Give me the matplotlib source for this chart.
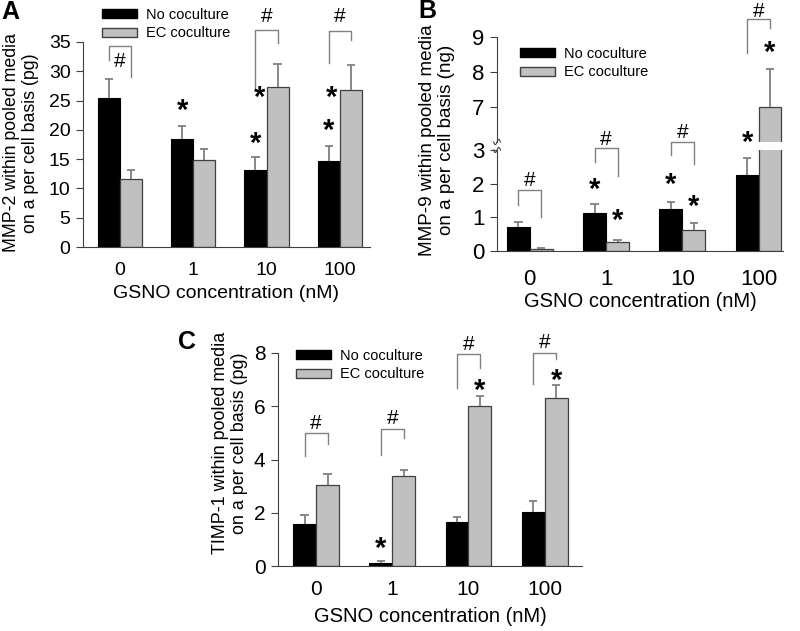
import matplotlib.pyplot as plt
import numpy as np
from matplotlib.patches import Patch

plt.rcParams['font.family'] = ['Liberation Sans', 'DejaVu Sans']

# ---- data ----
groups = ['0', '1', '10', '100']
series = ['No coculture', 'EC coculture']

# A: MMP-2 (pg)
mmp2_no = [25.4, 18.5, 13.1, 14.7]
mmp2_no_err = [3.3, 2.1, 2.2, 2.5]
mmp2_ec = [11.6, 14.9, 27.4, 26.8]
mmp2_ec_err = [1.5, 1.9, 3.8, 4.3]

# B: MMP-9 (ng)
mmp9_no = [0.70, 1.13, 1.25, 2.27]
mmp9_no_err = [0.16, 0.26, 0.20, 0.50]
mmp9_ec = [0.07, 0.27, 0.62, 7.0]
mmp9_ec_err = [0.02, 0.05, 0.20, 1.1]

# C: TIMP-1 (pg)
timp1_no = [1.57, 0.13, 1.65, 2.03]
timp1_no_err = [0.33, 0.04, 0.20, 0.40]
timp1_ec = [3.05, 3.38, 6.0, 6.3]
timp1_ec_err = [0.40, 0.24, 0.40, 0.50]

# '#' brackets: (group, top, left leg end, right leg end, '#' y)
mmp2_hash = [(0, 34.3, 31.9, 29.0, 31.9), (2, 37.0, 27.1, 34.8, 39.6), (3, 36.9, 31.4, 35.3, 39.6)]
mmp9_hash = [(0, 1.80, 1.38, 1.02, 2.13), (1, 3.05, 2.63, 2.22, 3.35), (2, 3.23, 2.84, 2.57, 3.56),
             (3, 9.51, 8.54, 9.26, 9.77)]
timp1_hash = [(0, 4.98, 4.12, 4.57, 5.39), (1, 5.13, 4.16, 4.79, 5.58), (2, 7.98, 6.67, 7.45, 8.39),
              (3, 8.01, 6.85, 7.79, 8.46)]

# '*' marks: (group, series, y, x shift)
mmp2_stars = [(1, 0, 24.7, 0), (2, 0, 19.1, 0), (2, 1, 26.8, -0.24), (3, 0, 21.3, 0), (3, 1, 26.9, -0.26)]
mmp9_stars = [(1, 0, 2.07, 0), (1, 1, 1.14, 0), (2, 0, 2.2, 0), (2, 1, 1.55, 0), (3, 0, 6.2, 0), (3, 1, 8.77, 0)]
timp1_stars = [(1, 0, 0.97, 0), (2, 1, 6.9, 0), (3, 1, 7.27, 0)]

W = 0.3
BLACK = '#000000'
GRAY = '#c0c0c0'
EDGE = '#404040'
LINE = '#808080'

fig = plt.figure(figsize=(8, 6.31), dpi=100)


def box(left, top, right, bottom):
    return [left / 800, 1 - bottom / 631, (right - left) / 800, (bottom - top) / 631]


def style(ax, tick_fs, show_bottom=True):
    ax.spines['top'].set_visible(False)
    ax.spines['right'].set_visible(False)
    ax.spines['left'].set_color(EDGE)
    ax.spines['bottom'].set_color(EDGE)
    ax.spines['bottom'].set_visible(show_bottom)
    ax.tick_params(axis='y', direction='out', length=5, width=0.8, color=EDGE, labelsize=tick_fs, pad=4)
    ax.tick_params(axis='x', length=0, labelsize=tick_fs)


def bars(ax, no, no_err, ec, ec_err):
    x = np.arange(len(groups))
    ax.bar(x - W / 2, no, W, color=BLACK, edgecolor=BLACK, linewidth=0.8)
    ax.bar(x + W / 2, ec, W, color=GRAY, edgecolor=EDGE, linewidth=0.9)
    for xs, v, e in [(x - W / 2, no, no_err), (x + W / 2, ec, ec_err)]:
        v = np.array(v)
        e = np.array(e)
        ax.vlines(xs, v, v + e, color=LINE, lw=1.3, zorder=3)
        ax.hlines(v + e, xs - 0.055, xs + 0.055, color=LINE, lw=1.3, zorder=3)


def hashes(ax, items, fs=15):
    for g, top, lb, rb, hy in items:
        xl, xr = g - W / 2, g + W / 2
        ax.plot([xl, xl, xr, xr], [lb, top, top, rb], color=LINE, lw=1.0, clip_on=False)
        ax.annotate('#', (g, hy), xytext=(0, -1), textcoords='offset points',
                    ha='center', va='center', fontsize=fs, annotation_clip=False)


def stars(ax, items, fs=21):
    for g, s, y, dx in items:
        xs = g - W / 2 if s == 0 else g + W / 2
        ax.annotate('*', (xs + dx, y), xytext=(0, -6), textcoords='offset points',
                    ha='center', va='center', fontsize=fs, fontweight='bold', annotation_clip=False)


def legend(ax, x, y):
    handles = [Patch(facecolor=BLACK, edgecolor=BLACK), Patch(facecolor=GRAY, edgecolor=EDGE)]
    ax.legend(handles, series, loc='upper left', bbox_to_anchor=(x, y), frameon=False, fontsize=10.5,
              borderpad=0, borderaxespad=0, handlelength=2.4, handleheight=0.55,
              handletextpad=0.6, labelspacing=0.3)


# ---- panel A ----
axA = fig.add_axes(box(83, 42, 370, 247))
bars(axA, mmp2_no, mmp2_no_err, mmp2_ec, mmp2_ec_err)
axA.set_xlim(-0.5, 3.41)
axA.set_ylim(0, 35)
axA.set_yticks(range(0, 36, 5))
axA.set_xticks(range(4))
axA.set_xticklabels(groups)
style(axA, 14)
axA.tick_params(axis='x', pad=11)
hashes(axA, mmp2_hash)
stars(axA, mmp2_stars)
legend(axA, 0.066, 1.166)
fig.text(21 / 800, 1 - 143 / 631, 'MMP-2 within pooled media\non a per cell basis (pg)', rotation=90,
         ha='center', va='center', fontsize=12.8, linespacing=1.2, multialignment='center')
fig.text(226 / 800, 1 - 293 / 631, 'GSNO concentration (nM)', ha='center', va='center', fontsize=14)
fig.text(10 / 800, 1 - 12 / 631, 'A', ha='center', va='center', fontsize=18, fontweight='bold')

# ---- panel B (broken axis) ----
axB = fig.add_axes(box(497, 150, 783, 251))
axB2 = fig.add_axes(box(497, 37, 783, 142), sharex=axB)
for ax in (axB, axB2):
    bars(ax, mmp9_no, mmp9_no_err, mmp9_ec, mmp9_ec_err)
axB.set_xlim(-0.43, 3.32)
axB.set_ylim(0, 3)
axB2.set_ylim(6, 9)
axB.set_yticks([0, 1, 2, 3])
axB2.set_yticks([7, 8, 9])
axB.set_xticks(range(4))
axB.set_xticklabels(groups)
style(axB, 16)
style(axB2, 16, show_bottom=False)
axB2.tick_params(axis='x', labelbottom=False)
axB.tick_params(axis='x', pad=13)
axB2.patch.set_alpha(0)
# break marks on the y axis
t = np.linspace(-1, 1, 30)
for ax, yb in ((axB, 1.0), (axB2, 0.0)):
    ax.plot(0.012 * t, yb + 0.025 * np.sin(np.pi * t), color=EDGE, lw=0.8,
            transform=ax.transAxes, clip_on=False)
hashes(axB, [h for h in mmp9_hash if h[1] < 5])
hashes(axB2, [h for h in mmp9_hash if h[1] > 5])
stars(axB, [s for s in mmp9_stars if s[2] < 5])
stars(axB2, [s for s in mmp9_stars if s[2] > 5])
legend(axB2, 0.08, 0.905)
fig.text(437 / 800, 1 - 140 / 631, 'MMP-9 within pooled media\non a per cell basis (ng)', rotation=90,
         ha='center', va='center', fontsize=13.6, linespacing=1.15, multialignment='center')
fig.text(640 / 800, 1 - 302 / 631, 'GSNO concentration (nM)', ha='center', va='center', fontsize=14.5)
fig.text(427 / 800, 1 - 11 / 631, 'B', ha='center', va='center', fontsize=18, fontweight='bold')

# ---- panel C ----
axC = fig.add_axes(box(278, 353, 582, 566))
bars(axC, timp1_no, timp1_no_err, timp1_ec, timp1_ec_err)
axC.set_xlim(-0.5, 3.49)
axC.set_ylim(0, 8)
axC.set_yticks([0, 2, 4, 6, 8])
axC.set_xticks(range(4))
axC.set_xticklabels(groups)
style(axC, 15)
axC.tick_params(axis='x', pad=10)
hashes(axC, timp1_hash)
stars(axC, timp1_stars)
legend(axC, 0.059, 1.019)
fig.text(230 / 800, 1 - 443 / 631, 'TIMP-1 within pooled media\non a per cell basis (pg)', rotation=90,
         ha='center', va='center', fontsize=12.9, linespacing=1.2, multialignment='center')
fig.text(430 / 800, 1 - 617 / 631, 'GSNO concentration (nM)', ha='center', va='center', fontsize=14.5)
fig.text(187 / 800, 1 - 342 / 631, 'C', ha='center', va='center', fontsize=18, fontweight='bold')

fig.savefig('out.png', dpi=100)
